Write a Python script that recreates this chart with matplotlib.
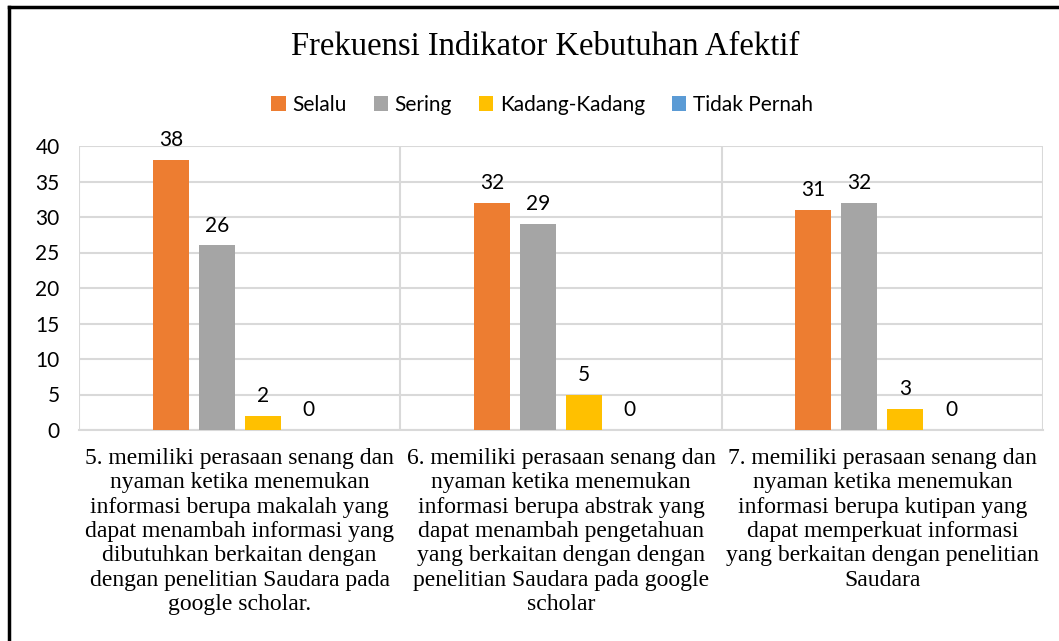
import matplotlib
matplotlib.use("Agg")
import matplotlib.pyplot as plt
from matplotlib.lines import Line2D
from matplotlib.patches import Patch
import numpy as np

categories = [
    "5. memiliki perasaan senang dan\nnyaman ketika menemukan\ninformasi berupa makalah yang\ndapat menambah informasi yang\ndibutuhkan berkaitan dengan\ndengan penelitian Saudara pada\ngoogle scholar.",
    "6. memiliki perasaan senang dan\nnyaman ketika menemukan\ninformasi berupa abstrak yang\ndapat menambah pengetahuan\nyang berkaitan dengan dengan\npenelitian Saudara pada google\nscholar",
    "7. memiliki perasaan senang dan\nnyaman ketika menemukan\ninformasi berupa kutipan yang\ndapat memperkuat informasi\nyang berkaitan dengan penelitian\nSaudara",
]
series_names = ["Selalu", "Sering", "Kadang-Kadang", "Tidak Pernah"]
selalu = [38, 32, 31]
sering = [26, 29, 32]
kadang = [2, 5, 3]
tidak_pernah = [0, 0, 0]
series_values = [selalu, sering, kadang, tidak_pernah]
colors = ["#ED7D31", "#A5A5A5", "#FFC000", "#5B9BD5"]
yticks = [0, 5, 10, 15, 20, 25, 30, 35, 40]

W, H = 1059, 641
fig = plt.figure(figsize=(W / 100, H / 100), dpi=100)
ax = fig.add_axes([79 / W, 1 - 430 / H, (1043 - 79) / W, (430 - 146) / H])

sans = "Lato"
serif = "Liberation Serif"

n = len(series_names)
slot = 0.143
bw = 0.112
x = np.arange(len(categories))
for i, (name, vals, c) in enumerate(zip(series_names, series_values, colors)):
    pos = x + (i - (n - 1) / 2) * slot
    ax.bar(pos, vals, width=bw, color=c, label=name, zorder=3)
    for p, v in zip(pos, vals):
        ax.annotate(str(v), (p, v), xytext=(0, 7), textcoords="offset points",
                    ha="center", va="bottom", fontsize=15, family=sans, color="#000000")

ax.set_xlim(-0.5, len(categories) - 0.5)
ax.set_ylim(0, 40)
ax.set_yticks(yticks)
ax.set_yticklabels([str(t) for t in yticks], fontsize=15, family=sans)
ax.yaxis.grid(True, color="#D9D9D9", linewidth=1.5, zorder=0)
for b in np.arange(len(categories) + 1) - 0.5:
    ax.axvline(b, color="#D9D9D9", linewidth=1.5, zorder=0)
for s in ["top", "right", "left"]:
    ax.spines[s].set_visible(False)
ax.spines["bottom"].set_color("#D9D9D9")
ax.spines["bottom"].set_linewidth(1.5)
ax.tick_params(axis="y", length=0, pad=14)
ax.tick_params(axis="x", length=0, pad=13)
ax.set_xticks(x)
ax.set_xticklabels(categories, fontsize=17, family=serif, linespacing=1.21)

fig.text(545 / W, 1 - 47 / H, "Frekuensi Indikator Kebutuhan Afektif", ha="center", va="center",
         fontsize=23.5, family=serif)

handles = [Patch(facecolor=c, label=nm) for nm, c in zip(series_names, colors)]
fig.legend(handles=handles, loc="center", bbox_to_anchor=(542 / W, 1 - 105 / H), ncol=4,
           frameon=False, prop={"family": sans, "size": 15}, handlelength=0.7,
           handleheight=0.7, handletextpad=0.3, columnspacing=1.3)

fig.add_artist(Line2D([9 / W, 9 / W], [0, 1 - 7 / H], color="black", linewidth=2.5,
                      transform=fig.transFigure))
fig.add_artist(Line2D([9 / W, 1], [1 - 7 / H, 1 - 7 / H], color="black", linewidth=2.5,
                      transform=fig.transFigure))

fig.savefig("out.png", dpi=100)
